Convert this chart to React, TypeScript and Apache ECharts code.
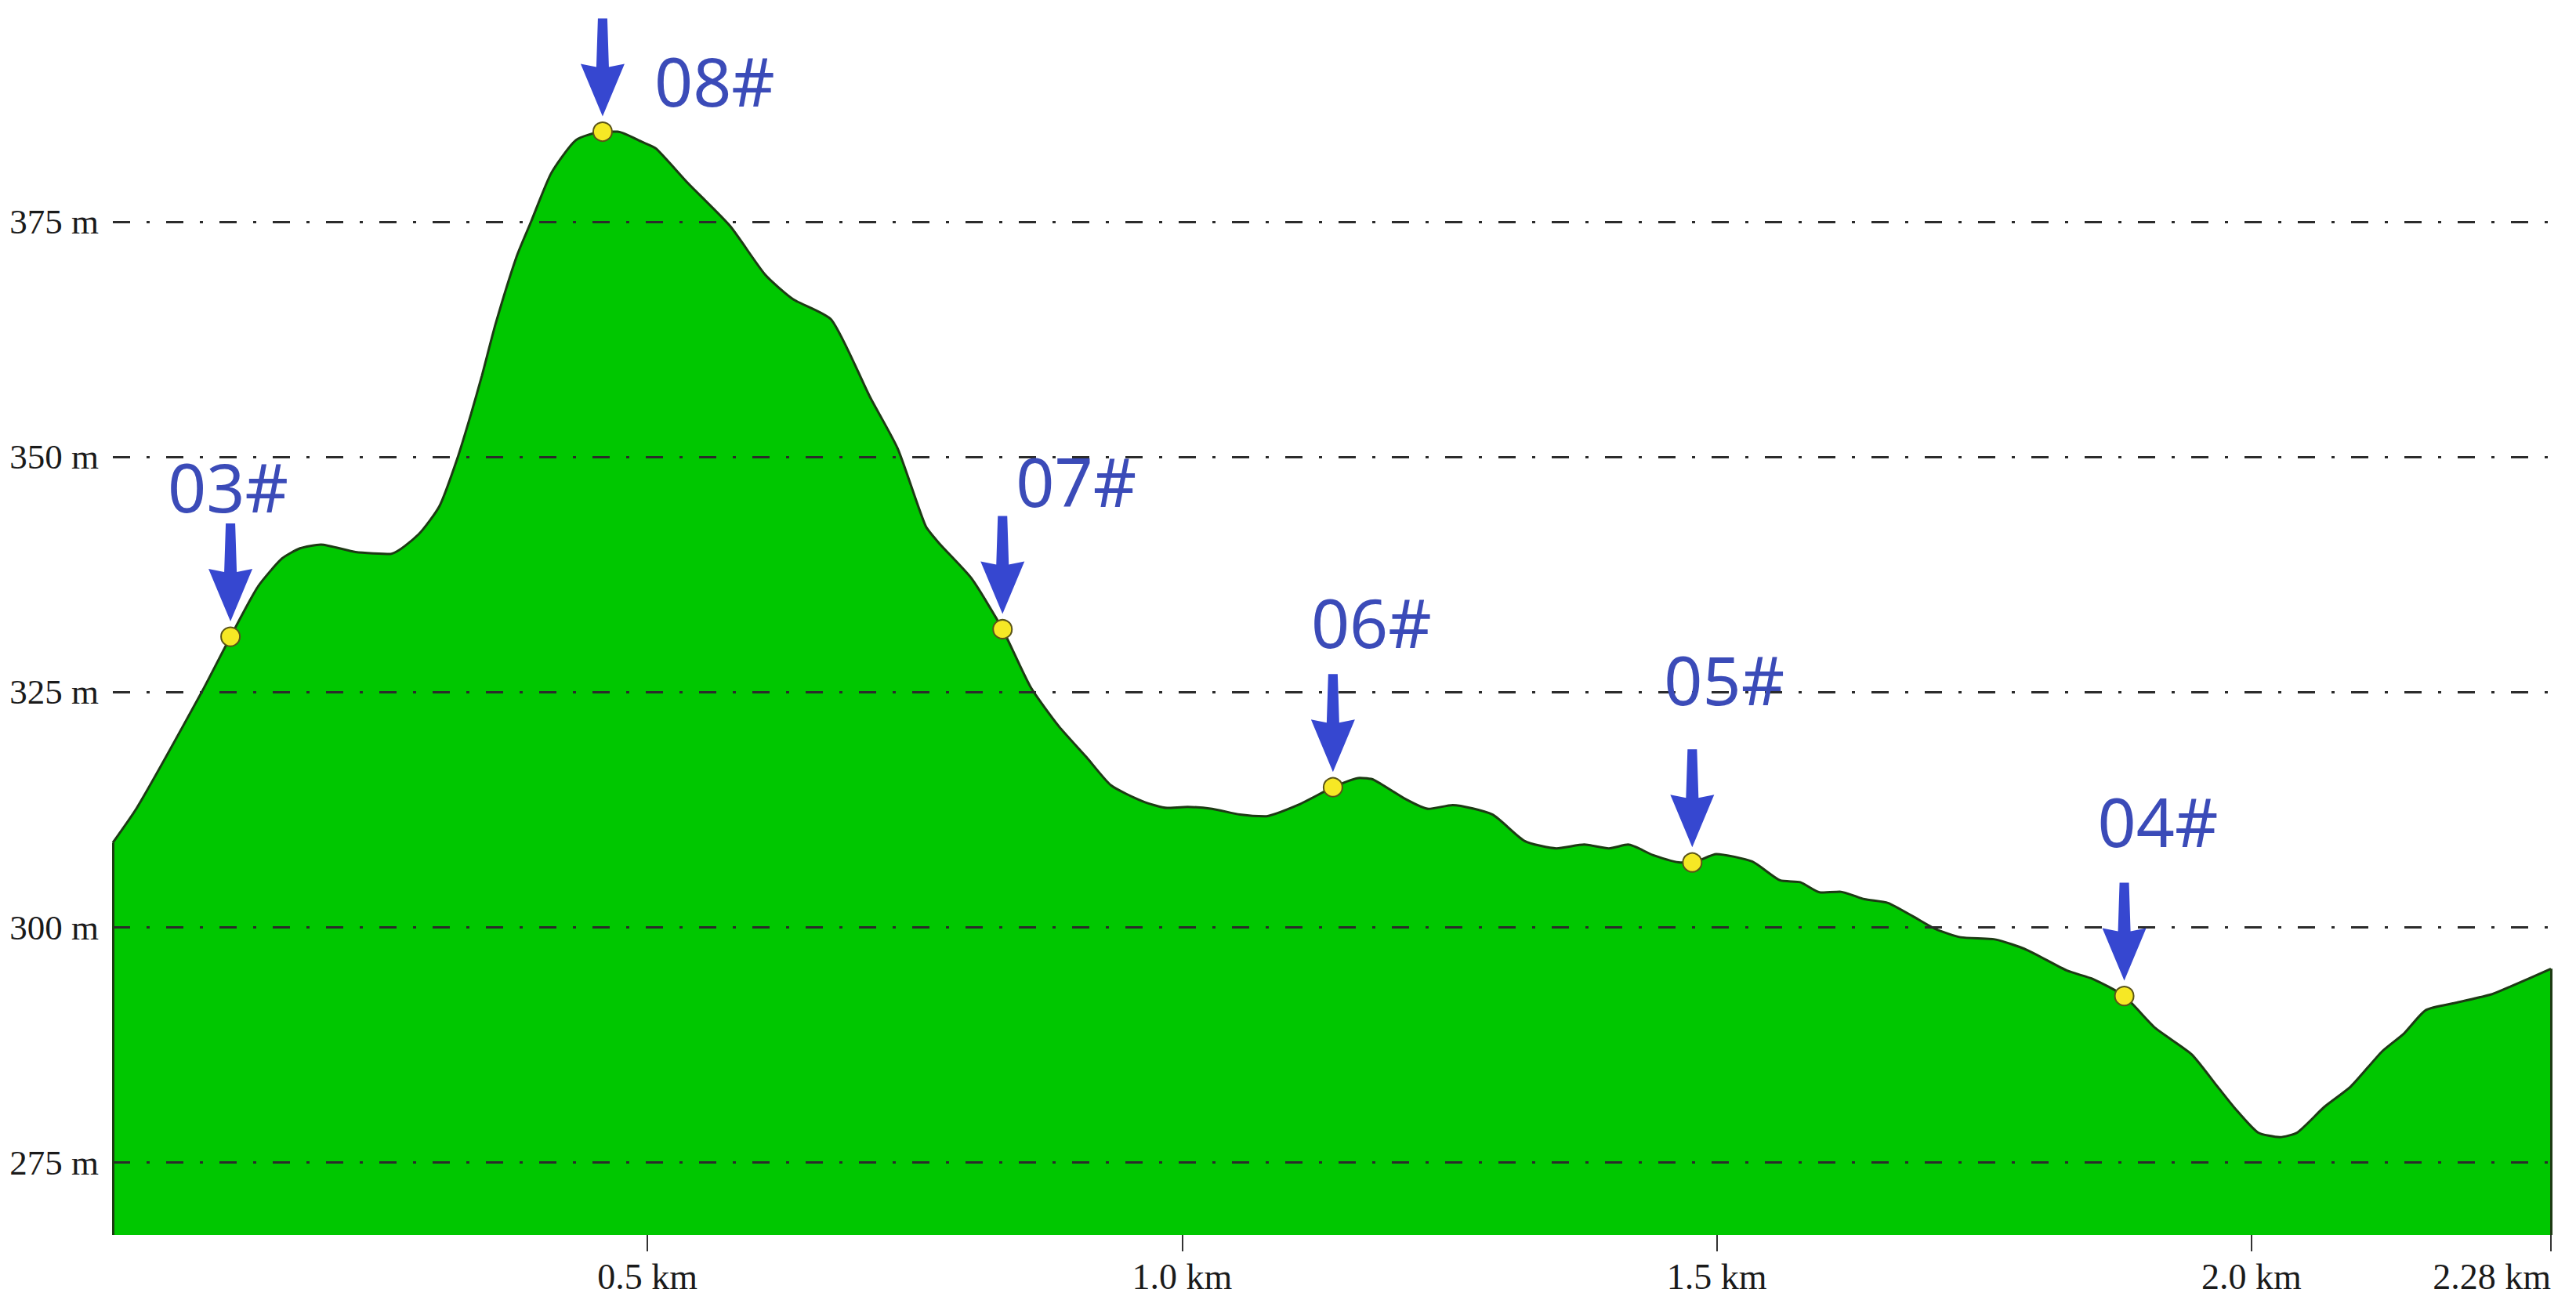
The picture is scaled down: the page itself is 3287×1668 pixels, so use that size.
import React, { useEffect, useRef } from "react";
import * as echarts from "echarts";

// ---- data ----
const distanceKm = [
  0.0, 0.023, 0.083, 0.11, 0.1355, 0.158, 0.175, 0.1945, 0.227, 0.2595, 0.286, 0.3055, 0.322,
  0.335, 0.345, 0.358, 0.3775, 0.391, 0.41, 0.433, 0.458, 0.472, 0.495, 0.508, 0.538, 0.577,
  0.61, 0.636, 0.672, 0.708, 0.734, 0.76, 0.773, 0.803, 0.832, 0.858, 0.8845, 0.9105, 0.9335,
  0.963, 0.986, 1.005, 1.028, 1.054, 1.077, 1.11, 1.141, 1.166, 1.179, 1.208, 1.2305, 1.253,
  1.29, 1.32, 1.35, 1.376, 1.399, 1.417, 1.44, 1.466, 1.477, 1.4995, 1.533, 1.559, 1.578,
  1.597, 1.615, 1.638, 1.66, 1.683, 1.705, 1.728, 1.761, 1.79, 1.8275, 1.852, 1.881, 1.91,
  1.944, 1.968, 1.985, 2.006, 2.0265, 2.043, 2.068, 2.093, 2.122, 2.1425, 2.163, 2.192, 2.225,
  2.242, 2.28,
];
const elevationM = [
  309.0, 312.8, 325.0, 330.9, 336.2, 339.2, 340.3, 340.7, 339.9, 339.7, 341.8, 344.8, 349.8,
  354.6, 358.6, 364.2, 371.3, 375.0, 380.2, 383.7, 384.6, 384.6, 383.5, 382.8, 379.1, 374.6,
  369.4, 366.8, 364.6, 356.4, 350.9, 342.7, 340.8, 337.1, 331.7, 325.6, 321.4, 318.1, 315.1,
  313.4, 312.7, 312.8, 312.6, 312.0, 311.8, 313.1, 314.9, 315.9, 315.7, 313.7, 312.6, 313.0,
  312.0, 309.2, 308.4, 308.8, 308.4, 308.8, 307.7, 306.9, 306.9, 307.8, 307.0, 305.0, 304.8,
  303.7, 303.8, 303.0, 302.6, 301.2, 299.8, 298.95, 298.7, 297.6, 295.4, 294.5, 292.7, 289.3,
  286.5, 283.1, 280.7, 278.2, 277.7, 278.2, 280.9, 283.1, 286.8, 288.7, 291.2, 292.0, 292.9,
  293.7, 295.6,
];
const towerNames = ["03#", "08#", "07#", "06#", "05#", "04#"];
const towerKm = [0.11, 0.458, 0.832, 1.141, 1.477, 1.881];
const towerM = [330.9, 384.6, 331.7, 314.9, 306.9, 292.7];
const yTickValues = [275, 300, 325, 350, 375];
const X_MIN = 0;
const X_MAX = 2.28;
const X_STEP = 0.5;
const Y_MIN = 267.3;
const Y_MAX = 398.6;

// ---- styling (label offsets relative to each tower dot, in px) ----
const LABEL_OFFSETS: Record<string, [number, number]> = {
  "03#": [-3, -192],
  "08#": [143, -66],
  "07#": [94, -190],
  "06#": [49, -211],
  "05#": [41, -234],
  "04#": [43, -224],
};
const ARROW_PATH =
  "path://M22 0 L34 0 L36 62 L56 58 L28 125 L0 58 L20 62 Z";

export default function App() {
  const ref = useRef<HTMLDivElement>(null);

  useEffect(() => {
    if (!ref.current) return;
    const chart = echarts.init(ref.current, undefined, { renderer: "svg" });

    const profile = distanceKm.map((d, i) => [d, elevationM[i]]);
    const towers = towerNames.map((n, i) => ({
      name: n,
      value: [towerKm[i], towerM[i]],
      label: { offset: LABEL_OFFSETS[n] },
    }));
    const arrows = towerNames.map((n, i) => ({ name: n, value: [towerKm[i], towerM[i]] }));

    const gridLineStyle = { type: [22, 21, 4, 21], color: "#2b2b2b", width: 3 };

    chart.setOption({
      animation: false,
      backgroundColor: "#ffffff",
      grid: { left: 144, right: 32, top: 0, bottom: 92, containLabel: false },
      xAxis: {
        type: "value",
        min: X_MIN,
        max: X_MAX,
        interval: X_STEP,
        axisLine: { show: false },
        axisTick: { show: true, length: 21, lineStyle: { color: "#333", width: 2 } },
        splitLine: { show: false },
        axisLabel: {
          showMinLabel: false,
          alignMaxLabel: "right",
          margin: 30,
          fontFamily: "Liberation Serif",
          fontSize: 46,
          color: "#1a1a1a",
          formatter: (v: number) => (v === X_MAX ? `${v} km` : `${v.toFixed(1)} km`),
        },
      },
      yAxis: {
        type: "value",
        min: Y_MIN,
        max: Y_MAX,
        axisLine: { show: false },
        axisTick: { show: false },
        splitLine: { show: false },
        axisLabel: {
          customValues: yTickValues,
          margin: 18,
          fontFamily: "Liberation Serif",
          fontSize: 45,
          color: "#1a1a1a",
          formatter: (v: number) => `${v} m`,
        },
      },
      series: [
        {
          type: "line",
          data: profile,
          symbol: "none",
          smooth: 0.2,
          z: 2,
          lineStyle: { color: "#1d3a14", width: 3 },
          areaStyle: { color: "#00c700", opacity: 1, origin: "start" },
          markLine: {
            silent: true,
            symbol: ["none", "none"],
            label: { show: false },
            lineStyle: gridLineStyle,
            data: [
              ...yTickValues.map((v) => ({ yAxis: v })),
              [
                { coord: [X_MIN, Y_MIN], lineStyle: { type: "solid", color: "#1d3a14", width: 3 } },
                { coord: [X_MIN, elevationM[0]] },
              ],
              [
                { coord: [X_MAX, Y_MIN], lineStyle: { type: "solid", color: "#1d3a14", width: 3 } },
                { coord: [X_MAX, elevationM[elevationM.length - 1]] },
              ],
            ],
          },
        },
        {
          type: "scatter",
          data: arrows,
          symbol: ARROW_PATH,
          symbolSize: [56, 125],
          symbolOffset: [0, -82],
          z: 6,
          silent: true,
          itemStyle: { color: "#3647d0", opacity: 1 },
        },
        {
          type: "scatter",
          data: towers,
          symbol: "circle",
          symbolSize: 24,
          z: 7,
          silent: true,
          itemStyle: { color: "#f6e825", borderColor: "#5a5418", borderWidth: 2, opacity: 1 },
          label: {
            show: true,
            position: "inside",
            formatter: "{b}",
            fontFamily: "Noto Sans",
            fontSize: 86,
            color: "#3b4bb8",
            align: "center",
            verticalAlign: "middle",
          },
        },
      ],
    });

    return () => chart.dispose();
  }, []);

  return (
    <div
      ref={ref}
      style={{ position: "absolute", left: 0, top: 0, width: 3287, height: 1668, background: "#fff" }}
    />
  );
}
